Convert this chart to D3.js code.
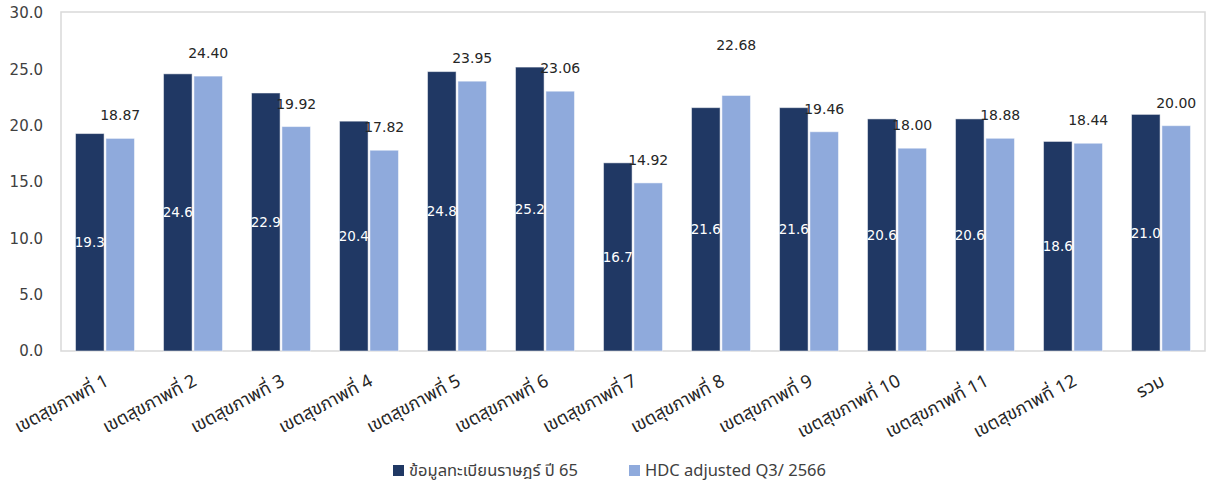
<!DOCTYPE html>
<html>
<head>
<meta charset="utf-8">
<script src="https://cdn.jsdelivr.net/npm/d3@7"></script>
<style>
  body { margin: 0; background: #fff; }
  svg { display: block; }
</style>
</head>
<body>
<svg id="chart"></svg>
<script>
// data
const regions = ["เขตสุขภาพที่ 1", "เขตสุขภาพที่ 2", "เขตสุขภาพที่ 3", "เขตสุขภาพที่ 4",
  "เขตสุขภาพที่ 5", "เขตสุขภาพที่ 6", "เขตสุขภาพที่ 7", "เขตสุขภาพที่ 8",
  "เขตสุขภาพที่ 9", "เขตสุขภาพที่ 10", "เขตสุขภาพที่ 11", "เขตสุขภาพที่ 12", "รวม"];
const registry65 = [19.3, 24.6, 22.9, 20.4, 24.8, 25.2, 16.7, 21.6, 21.6, 20.6, 20.6, 18.6, 21.0];
const hdcQ3 = [18.87, 24.40, 19.92, 17.82, 23.95, 23.06, 14.92, 22.68, 19.46, 18.00, 18.88, 18.44, 20.00];
const seriesNames = ["ข้อมูลทะเบียนราษฎร์ ปี 65", "HDC adjusted Q3/ 2566"];
const yTicks = [0, 5, 10, 15, 20, 25, 30];

const colors = ["#203864", "#8faadc"];
const W = 1213, H = 485;
const plotL = 61, plotR = 1205, plotT = 13, plotB = 351;
const fontNum = "'DejaVu Sans', Verdana, sans-serif";
const fontThai = "Tahoma, 'Noto Sans Thai', 'Noto Sans', sans-serif";

// one label was dragged up in the original
const hdcLabelNudge = {7: [0, -27]};

const svg = d3.select("#chart").attr("width", W).attr("height", H);

const x = d3.scaleBand().domain(regions).range([plotL, plotR])
    .paddingInner(0.33).paddingOuter(0.165);
const x2 = d3.scaleBand().domain([0, 1]).range([0, x.bandwidth()]).paddingInner(0.06);
const y = d3.scaleLinear().domain([0, 30]).range([plotB, plotT]);

// plot frame
svg.append("rect")
    .attr("x", plotL).attr("y", plotT - 1)
    .attr("width", plotR - plotL).attr("height", plotB - plotT + 1)
    .attr("fill", "none").attr("stroke", "#d9d9d9").attr("stroke-width", 1.5);

// y axis labels
svg.append("g").selectAll("text")
    .data(yTicks)
    .join("text")
    .attr("x", 43)
    .attr("y", d => y(d))
    .attr("dy", "0.36em")
    .attr("text-anchor", "end")
    .attr("font-family", fontNum)
    .attr("font-size", 15)
    .attr("fill", "#404040")
    .text(d => d.toFixed(1));

const rows = regions.map((r, i) => ({r, i, vals: [registry65[i], hdcQ3[i]]}));

const groups = svg.append("g").selectAll("g")
    .data(rows)
    .join("g")
    .attr("transform", d => "translate(" + x(d.r) + ",0)");

groups.selectAll("rect")
    .data(d => d.vals.map((v, k) => ({v, k})))
    .join("rect")
    .attr("x", d => x2(d.k))
    .attr("y", d => y(d.v))
    .attr("width", x2.bandwidth())
    .attr("height", d => y(0) - y(d.v))
    .attr("fill", d => colors[d.k])
    .attr("stroke", "#ffffff")
    .attr("stroke-opacity", 0.5)
    .attr("stroke-width", 1);

// labels inside the dark bars
groups.append("text")
    .attr("x", x2(0) + x2.bandwidth() / 2)
    .attr("y", d => (y(d.vals[0]) + y(0)) / 2)
    .attr("dy", "0.36em")
    .attr("text-anchor", "middle")
    .attr("font-family", fontNum)
    .attr("font-size", 13.5)
    .attr("fill", "#ffffff")
    .text(d => d.vals[0].toFixed(1));

// labels above the light bars
groups.append("text")
    .attr("x", d => x2(1) + x2.bandwidth() / 2 + (hdcLabelNudge[d.i] ? hdcLabelNudge[d.i][0] : 0))
    .attr("y", d => y(d.vals[1]) - 18 + (hdcLabelNudge[d.i] ? hdcLabelNudge[d.i][1] : 0))
    .attr("text-anchor", "middle")
    .attr("font-family", fontNum)
    .attr("font-size", 14)
    .attr("fill", "#262626")
    .text(d => d.vals[1].toFixed(2));

// category labels, rotated
svg.append("g").selectAll("text")
    .data(regions)
    .join("text")
    .attr("transform", d => "translate(" + (x(d) + x.bandwidth() / 2 - 2) + ",372) rotate(-28)")
    .attr("dy", "0.8em")
    .attr("text-anchor", "end")
    .attr("font-family", fontThai)
    .attr("font-size", 18)
    .attr("fill", "#262626")
    .text(d => d);

// legend
const legendX = [393, 629];
const legend = svg.append("g").selectAll("g")
    .data(seriesNames)
    .join("g")
    .attr("transform", (d, i) => "translate(" + legendX[i] + ",465)");
legend.append("rect")
    .attr("width", 11).attr("height", 11)
    .attr("fill", (d, i) => colors[i]);
legend.append("text")
    .attr("x", 16).attr("y", 5.5).attr("dy", "0.36em")
    .attr("font-family", fontThai)
    .attr("font-size", 16.5)
    .attr("fill", "#404040")
    .text(d => d);
</script>
</body>
</html>
